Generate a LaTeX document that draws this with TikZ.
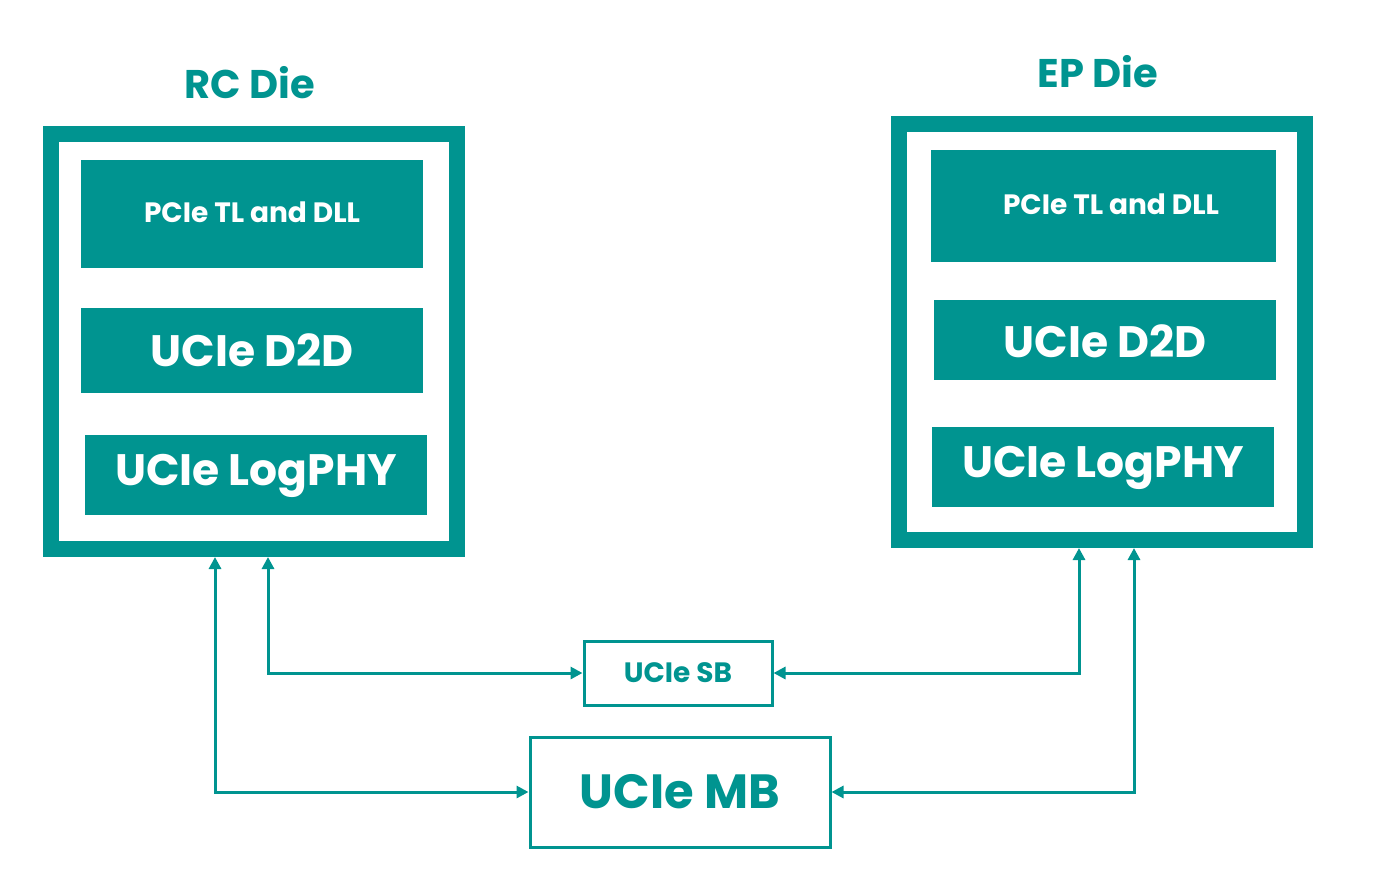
\documentclass[tikz,border=0pt]{standalone}
\usepackage{fontspec}
\setmainfont{Poppins}
\usetikzlibrary{arrows.meta}
\definecolor{ucteal}{RGB}{0,148,144}
\tikzset{
  diebox/.style={draw=ucteal, line width=8pt},
  layerbox/.style={fill=ucteal, text=white, font=\bfseries},
  linkbox/.style={draw=ucteal, line width=1.5pt, text=ucteal, font=\bfseries},
  link/.style={draw=ucteal, line width=1.5pt, {Triangle[length=6pt,width=6pt]}-{Triangle[length=6pt,width=6pt]}},
}
\begin{document}
\begin{tikzpicture}[x=0.5pt, y=-0.5pt]
    \useasboundingbox (0,0) rectangle (1381,891);
    % Dies
    \draw[diebox] (51,134) rectangle (457,549);
    \draw[diebox] (899,124) rectangle (1305,540);
    \node[text=ucteal, font=\fontsize{20}{24}\bfseries\selectfont] (rctitle) at (250,83) {RC Die};
    \node[text=ucteal, font=\fontsize{20}{24}\bfseries\selectfont] (eptitle) at (1098,72) {EP Die};
    % Layers, RC side
    \fill[ucteal] (81,160) rectangle (423,268);
    \node[layerbox, font=\fontsize{14}{16}\bfseries\selectfont] (rctl) at (252,212) {PCIe TL and DLL};
    \fill[ucteal] (81,308) rectangle (423,393);
    \node[layerbox, font=\fontsize{22}{26}\bfseries\selectfont] (rcd2d) at (252,350) {UCIe D2D};
    \fill[ucteal] (85,435) rectangle (427,515);
    \node[layerbox, font=\fontsize{22}{26}\bfseries\selectfont] (rcphy) at (256,476) {UCIe LogPHY};
    % Layers, EP side
    \fill[ucteal] (931,150) rectangle (1276,262);
    \node[layerbox, font=\fontsize{14}{16}\bfseries\selectfont] (eptl) at (1111,204) {PCIe TL and DLL};
    \fill[ucteal] (934,300) rectangle (1276,380);
    \node[layerbox, font=\fontsize{22}{26}\bfseries\selectfont] (epd2d) at (1105,341) {UCIe D2D};
    \fill[ucteal] (932,427) rectangle (1274,507);
    \node[layerbox, font=\fontsize{22}{26}\bfseries\selectfont] (epphy) at (1103,468) {UCIe LogPHY};
    % Sideband and mainband
    \node[linkbox, minimum width=94pt, minimum height=32pt, font=\fontsize{14}{16}\bfseries\selectfont] (sb) at (678,673) {UCIe SB};
    \node[linkbox, minimum width=150pt, minimum height=55pt, font=\fontsize{24}{28}\bfseries\selectfont] (mb) at (680,792) {UCIe MB};
    % Connectors
    \coordinate (rcsb) at (268,557);
    \coordinate (rcmb) at (215,557);
    \coordinate (epsb) at (1079,548);
    \coordinate (epmb) at (1134,548);
    \draw[link] (rcsb) |- (sb.west);
    \draw[link] (rcmb) |- (mb.west);
    \draw[link] (epsb) |- (sb.east);
    \draw[link] (epmb) |- (mb.east);
\end{tikzpicture}
\end{document}
